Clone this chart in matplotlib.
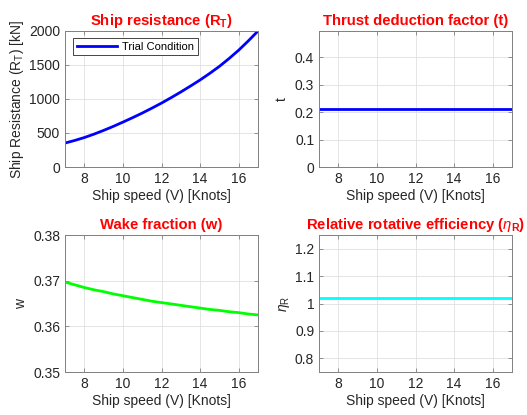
import numpy as np
import matplotlib
matplotlib.use("Agg")
import matplotlib.pyplot as plt

plt.rcParams['font.family'] = ['Liberation Sans', 'DejaVu Sans']
plt.rcParams['mathtext.fontset'] = 'custom'
plt.rcParams['mathtext.rm'] = 'Liberation Sans'
plt.rcParams['mathtext.it'] = 'Liberation Sans:italic'
plt.rcParams['mathtext.bf'] = 'Liberation Sans:bold'

speed = [7.0, 7.5, 8.0, 8.5, 9.0, 9.5, 10.0, 10.5, 11.0, 11.5, 12.0,
         12.5, 13.0, 13.5, 14.0, 14.5, 15.0, 15.5, 16.0, 16.5, 17.0]
resistance = [352, 390, 433, 483, 538, 597, 660, 725, 793, 865, 940,
              1020, 1103, 1190, 1280, 1377, 1480, 1595, 1718, 1855, 2000]
wake = [0.3697, 0.3691, 0.3685, 0.3680, 0.3676, 0.3671, 0.3667, 0.3663, 0.3659, 0.3655, 0.3652,
        0.3649, 0.3646, 0.3643, 0.3640, 0.3637, 0.3635, 0.3632, 0.3630, 0.3627, 0.3625]
thrust_t = [0.2125] * len(speed)
eta_r = [1.0195] * len(speed)

W, H = 527, 415
fig = plt.figure(figsize=(W / 100, H / 100), dpi=100)

def mk_ax(x0, y0, x1, y1):
    return fig.add_axes([x0 / W, 1 - y1 / H, (x1 - x0) / W, (y1 - y0) / H])

def style(ax):
    ax.grid(True, color='#e0e0e0', linewidth=0.6)
    ax.set_axisbelow(True)
    for s in ax.spines.values():
        s.set_color('#808080')
        s.set_linewidth(0.7)
    ax.tick_params(direction='in', length=3, width=0.6, colors='#808080',
                   labelcolor='#262626', labelsize=10, top=True, right=True)
    ax.set_xlim(7, 17)
    ax.set_xticks([8, 10, 12, 14, 16])
    ax.set_xlabel('Ship speed (V) [Knots]', fontsize=10, color='#262626', labelpad=2)

tc = 'red'
tfs = 10.7

ax1 = mk_ax(65, 31, 258, 167)
ax1.plot(speed, resistance, color='blue', linewidth=2, label='Trial Condition')
style(ax1)
ax1.set_ylim(0, 2000)
ax1.set_yticks([0, 500, 1000, 1500, 2000])
ax1.set_ylabel('Ship Resistance (R$_{\\rm T}$) [kN]', fontsize=10, color='#262626', labelpad=2)
ax1.set_title('Ship resistance (R$_{\\bf T}$)', color=tc, fontsize=tfs, fontweight='bold', pad=4)
leg = ax1.legend(loc='upper left', bbox_to_anchor=(0.0415, 0.951), borderaxespad=0,
                 fontsize=8, frameon=True, fancybox=False, framealpha=1,
                 edgecolor='#262626', handlelength=3.6, handletextpad=0.5, borderpad=0.35)
leg.get_frame().set_linewidth(0.6)

ax2 = mk_ax(319, 31, 512, 167)
ax2.plot(speed, thrust_t, color='blue', linewidth=2)
style(ax2)
ax2.set_ylim(0, 0.496)
ax2.set_yticks([0, 0.1, 0.2, 0.3, 0.4])
ax2.set_yticklabels(['0', '0.1', '0.2', '0.3', '0.4'])
ax2.set_ylabel('t', fontsize=10, color='#262626', labelpad=4)
ax2.set_title('Thrust deduction factor (t)', color=tc, fontsize=tfs, fontweight='bold', pad=4)

ax3 = mk_ax(65, 235, 258, 372)
ax3.plot(speed, wake, color='#00ff00', linewidth=2)
style(ax3)
ax3.set_ylim(0.35, 0.38)
ax3.set_yticks([0.35, 0.36, 0.37, 0.38])
ax3.set_ylabel('w', fontsize=10, color='#262626', labelpad=4)
ax3.set_title('Wake fraction (w)', color=tc, fontsize=tfs, fontweight='bold', pad=4)

ax4 = mk_ax(319, 235, 512, 372)
ax4.plot(speed, eta_r, color='cyan', linewidth=2)
style(ax4)
ax4.set_ylim(0.75, 1.25)
ax4.set_yticks([0.8, 0.9, 1.0, 1.1, 1.2])
ax4.set_yticklabels(['0.8', '0.9', '1', '1.1', '1.2'])
ax4.set_ylabel('$\\eta_{\\rm R}$', fontsize=10, color='#262626', labelpad=2)
ax4.set_title('Relative rotative efficiency ($\\eta_{\\bf R}$)', color=tc, fontsize=tfs,
              fontweight='bold', pad=4)

fig.savefig('out.png', dpi=100, facecolor='white')
